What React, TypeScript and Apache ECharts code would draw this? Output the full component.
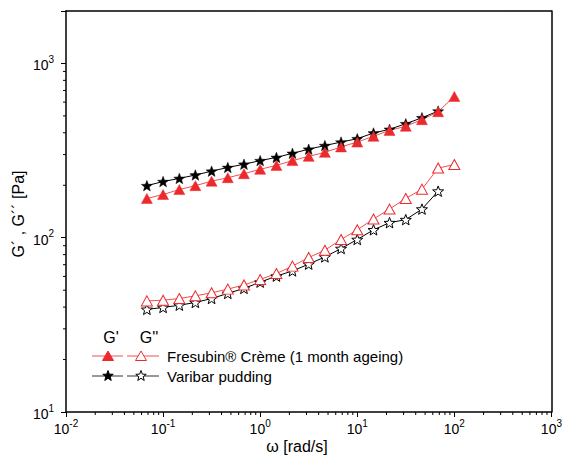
import React, { useEffect, useRef } from 'react';
import * as echarts from 'echarts';

// angular frequency [rad/s]
const omega = [0.0681, 0.1, 0.147, 0.215, 0.316, 0.464, 0.681, 1, 1.47, 2.15, 3.16, 4.64, 6.81, 10, 14.7, 21.5, 31.6, 46.4, 68.1, 100];
// Fresubin Crème (1 month ageing)
const fresubinGp = [168, 177, 189, 199, 211, 221, 233, 247, 260, 277, 293, 309, 332, 354, 382, 413, 436, 476, 529, 647];
const fresubinGpp = [43.4, 43.8, 44.8, 46.4, 48.3, 50.7, 53.6, 57.6, 62.3, 68.7, 77, 84.8, 97.7, 111, 128, 146, 168, 190, 251, 263];
// Varibar pudding
const varibarGp = [199, 210, 219, 229, 241, 253, 264, 277, 289, 305, 322, 338, 354, 370, 399, 419, 451, 488, 533];
const varibarGpp = [38.8, 39.8, 41.0, 42.5, 44.8, 47.9, 51.2, 55.6, 60.2, 64.5, 70.5, 77.6, 86.7, 97.7, 111, 122, 127, 146, 185];

// axis ranges / ticks
const xMin = 0.01;
const xMax = 1000;
const yMin = 10;
const yMax = 2000;
const minorMantissas = [2, 3, 4, 5, 6, 7, 8, 9];
const xDecades = [0.01, 0.1, 1, 10, 100];
const yDecades = [10, 100, 1000];

const legendHeaders = ["G'", "G''"];
const seriesNames = ['Fresubin® Crème (1 month ageing)', 'Varibar pudding'];

const RED = '#ec2a2e';
const RED_LINE = '#f0504f';
const FONT = '"Liberation Sans", Arial, sans-serif';

function starPath(r: number) {
  const pts: string[] = [];
  for (let i = 0; i < 10; i++) {
    const ang = -Math.PI / 2 + (i * Math.PI) / 5;
    const rr = i % 2 === 0 ? r : r * 0.42;
    pts.push(`${(Math.cos(ang) * rr).toFixed(3)},${(Math.sin(ang) * rr).toFixed(3)}`);
  }
  return 'M' + pts.join(' L') + ' Z';
}
const STAR_SYMBOL = 'path://' + starPath(10);
echarts.graphic.registerShape('legendStar', echarts.graphic.extendPath(starPath(5.5), {}) as any);

function pair(xs: number[], ys: number[]) {
  return ys.map((y, i) => [xs[i], y]);
}

function powLabel(v: number) {
  const l = Math.log10(v);
  const e = Math.round(l);
  if (Math.abs(l - e) > 1e-6) return '';
  return `{b|10}{s|${e}}`;
}

const richLabel = {
  b: { fontSize: 14, fontFamily: FONT, color: '#000', lineHeight: 18, verticalAlign: 'bottom' },
  s: { fontSize: 10, fontFamily: FONT, color: '#000', lineHeight: 18, verticalAlign: 'top' },
};

export default function App() {
  const ref = useRef<HTMLDivElement>(null);
  useEffect(() => {
    if (!ref.current) return;
    document.body.style.margin = '0';
    const chart = echarts.init(ref.current, undefined, { renderer: 'svg' });
    const xMinor: number[][] = [];
    xDecades.forEach((d) => minorMantissas.forEach((m) => xMinor.push([d * m, yMin])));
    const yMinor: number[][] = [];
    yDecades.forEach((d) => minorMantissas.forEach((m) => { if (d * m < yMax) yMinor.push([xMin, d * m]); }));

    const tickSeries = (data: number[][], dir: 'x' | 'y') => ({
      type: 'custom',
      silent: true,
      clip: false,
      z: 10,
      data,
      renderItem: (_p: any, api: any) => {
        const p = api.coord([api.value(0), api.value(1)]);
        const shape = dir === 'x'
          ? { x1: p[0], y1: p[1], x2: p[0], y2: p[1] + 3 }
          : { x1: p[0], y1: p[1], x2: p[0] - 3, y2: p[1] };
        return { type: 'line', shape, style: { stroke: '#000', lineWidth: 1 } };
      },
    });

    const lx = 92;
    const r1 = 356;
    const r2 = 376;
    const tri = (cx: number, cy: number, filled: boolean) => ({
      type: 'polygon',
      shape: { points: [[cx, cy - 5], [cx + 5.5, cy + 4.5], [cx - 5.5, cy + 4.5]] },
      style: { fill: filled ? RED : '#fff', stroke: RED, lineWidth: 1 },
      z: 20,
    });
    const star = (cx: number, cy: number, filled: boolean) => ({
      type: 'legendStar',
      x: cx,
      y: cy,
      style: { fill: filled ? '#000' : '#fff', stroke: '#000', lineWidth: 1 },
      z: 20,
    });
    const seg = (x1: number, x2: number, y: number, c: string) => ({
      type: 'line',
      shape: { x1, y1: y, x2, y2: y },
      style: { stroke: c, lineWidth: 1 },
      z: 19,
    });

    chart.setOption({
      animation: false,
      backgroundColor: '#fff',
      grid: { left: 66, right: 13, top: 11, bottom: 45, show: false },
      xAxis: [
        {
          type: 'log', logBase: 10, min: xMin, max: xMax,
          axisLine: { show: true, lineStyle: { color: '#000', width: 1.5 } },
          axisTick: { show: true, inside: false, length: 5, lineStyle: { color: '#000', width: 1 } },
          splitLine: { show: false },
          axisLabel: { formatter: powLabel, rich: richLabel, margin: 6, color: '#000' },
        },
        {
          type: 'log', logBase: 10, min: xMin, max: xMax, position: 'top',
          axisLine: { show: true, onZero: false, lineStyle: { color: '#000', width: 1.5 } },
          axisTick: { show: false }, axisLabel: { show: false }, splitLine: { show: false },
        },
      ],
      yAxis: [
        {
          type: 'log', logBase: 10, min: yMin, max: yMax,
          axisLine: { show: true, lineStyle: { color: '#000', width: 1.5 } },
          axisTick: { show: true, inside: false, length: 5, lineStyle: { color: '#000', width: 1 } },
          splitLine: { show: false },
          axisLabel: { formatter: powLabel, rich: richLabel, margin: 12, color: '#000' },
        },
        {
          type: 'log', logBase: 10, min: yMin, max: yMax, position: 'right',
          axisLine: { show: true, onZero: false, lineStyle: { color: '#000', width: 1.5 } },
          axisTick: { show: false }, axisLabel: { show: false }, splitLine: { show: false },
        },
      ],
      series: [
        {
          type: 'line', name: seriesNames[1] + " G''", data: pair(omega, varibarGpp),
          symbol: STAR_SYMBOL, symbolKeepAspect: true, symbolSize: 11,
          lineStyle: { color: '#000', width: 1 },
          itemStyle: { color: '#fff', borderColor: '#000', borderWidth: 1 },
        },
        {
          type: 'line', name: seriesNames[0] + " G''", data: pair(omega, fresubinGpp),
          symbol: 'triangle', symbolSize: [11, 10],
          lineStyle: { color: RED_LINE, width: 1 },
          itemStyle: { color: '#fff', borderColor: RED, borderWidth: 1 },
        },
        {
          type: 'line', name: seriesNames[1] + " G'", data: pair(omega, varibarGp),
          symbol: STAR_SYMBOL, symbolKeepAspect: true, symbolSize: 11,
          lineStyle: { color: '#000', width: 1 },
          itemStyle: { color: '#000', borderColor: '#000', borderWidth: 0.5 },
        },
        {
          type: 'line', name: seriesNames[0] + " G'", data: pair(omega, fresubinGp),
          symbol: 'triangle', symbolSize: [11, 10],
          lineStyle: { color: RED_LINE, width: 1 },
          itemStyle: { color: RED, borderColor: RED, borderWidth: 0.5 },
        },
        tickSeries(xMinor, 'x'),
        tickSeries(yMinor, 'y'),
      ],
      graphic: [
        {
          type: 'text', x: 297, y: 446,
          style: { text: 'ω [rad/s]', font: `16px ${FONT}`, fill: '#000', align: 'center', verticalAlign: 'middle' },
        },
        {
          type: 'text', x: 18, y: 214, rotation: Math.PI / 2,
          style: { text: 'G´ , G´´ [Pa]', font: `16px ${FONT}`, fill: '#000', align: 'center', verticalAlign: 'middle' },
        },
        {
          type: 'text', x: 111, y: 337,
          style: { text: legendHeaders[0], font: `16px ${FONT}`, fill: '#000', align: 'center', verticalAlign: 'middle' },
        },
        {
          type: 'text', x: 149, y: 337,
          style: { text: legendHeaders[1], font: `16px ${FONT}`, fill: '#000', align: 'center', verticalAlign: 'middle' },
        },
        seg(lx, lx + 31, r1, RED_LINE),
        seg(lx + 35, lx + 67, r1, RED_LINE),
        tri(lx + 16, r1, true),
        tri(lx + 49, r1, false),
        {
          type: 'text', x: 167, y: r1,
          style: { text: seriesNames[0], font: `15px ${FONT}`, fill: '#000', align: 'left', verticalAlign: 'middle' },
        },
        seg(lx, lx + 31, r2, '#333'),
        seg(lx + 35, lx + 67, r2, '#333'),
        star(lx + 16, r2, true),
        star(lx + 49, r2, false),
        {
          type: 'text', x: 167, y: r2,
          style: { text: seriesNames[1], font: `15px ${FONT}`, fill: '#000', align: 'left', verticalAlign: 'middle' },
        },
      ],
    });
    return () => chart.dispose();
  }, []);
  return <div ref={ref} style={{ width: 565, height: 457, position: 'fixed', left: 0, top: 0 }} />;
}
